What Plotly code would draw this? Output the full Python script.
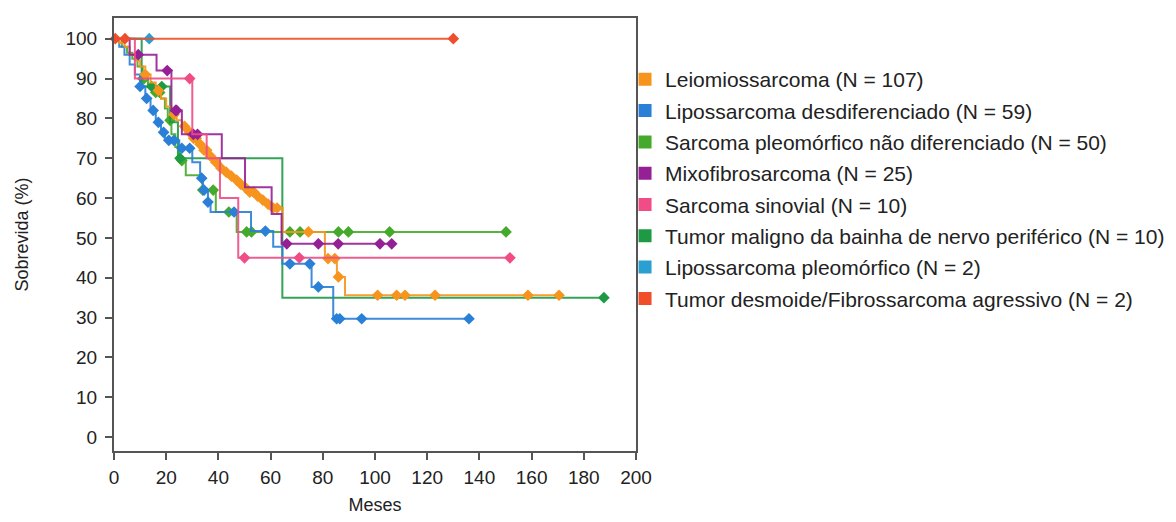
import numpy as np
import plotly.graph_objects as go

# ---------------- data (Kaplan-Meier step curves) ----------------
names = [
    "Leiomiossarcoma (N = 107)",
    "Lipossarcoma desdiferenciado (N = 59)",
    "Sarcoma pleomórfico não diferenciado (N = 50)",
    "Mixofibrosarcoma (N = 25)",
    "Sarcoma sinovial (N = 10)",
    "Tumor maligno da bainha de nervo periférico (N = 10)",
    "Lipossarcoma pleomórfico (N = 2)",
    "Tumor desmoide/Fibrossarcoma agressivo (N = 2)",
]
colors = ["#F7941D", "#2A7FD6", "#45AA2C", "#952096", "#F04C86", "#1E9A45", "#2AA0D0", "#F04E2A"]

leio_t = [0, 2, 4, 6, 8, 10, 12, 14, 16, 18, 20, 22, 24, 26, 28, 30, 32, 34, 36, 38, 40, 42, 44,
          46, 48, 50, 52, 54, 56, 58, 60, 64.6, 80.8, 85.4, 88.5, 172]
leio_s = [100, 99, 98, 96, 94.5, 93, 91, 89, 87, 85, 83, 81, 79.5, 78, 76.5, 75, 73.5, 72, 70.5,
          69, 67.5, 66.5, 65.5, 64.5, 63.5, 62.5, 61.5, 60.5, 59.5, 58.5, 57.5, 51.5, 44.8, 40.2, 35.6, 35.6]
leio_c = [12, 17, 23, 27, 29, 30.5, 31.5, 33, 34.5, 35.5, 37, 39, 41, 43, 45, 47, 48.5, 50.5, 52,
          53.5, 55, 57, 59, 61, 62.5, 74.5, 82, 84.6, 86, 101, 108.3, 111.5, 123, 158.6, 170.5]

lipo_t = [0, 2, 4, 6, 8, 10, 12, 14, 16, 18, 19.5, 25, 30, 33, 34, 36, 37, 52.5, 61, 64.5, 75.7, 84, 136]
lipo_s = [100, 98, 96, 93.5, 91, 88, 85, 82, 79, 76.5, 74.5, 72.5, 69, 65, 62, 59, 56.5, 51.7, 47.8,
          43.5, 37.7, 29.7, 29.7]
lipo_c = [10, 12.5, 15, 17, 19, 21, 23, 26, 29, 33.6, 34.5, 36, 46, 58, 67.4, 75, 78.3, 85.3, 86.5, 94.9, 136]

spnd_t = [0, 3, 5, 7, 9, 11, 13, 15, 18, 19.5, 20.6, 22, 23.5, 25, 27.5, 34, 39, 47, 150.2]
spnd_s = [100, 98, 96.5, 95, 93, 90, 88, 86.5, 85, 82.5, 79.5, 76, 72.8, 69.4, 65.7, 62, 56.5, 51.5, 51.5]
spnd_c = [11, 11.5, 16, 17.5, 21.5, 26, 34, 38, 44, 50.8, 52.7, 67.4, 71.3, 86, 89.8, 105.6, 150.2]

mixo_t = [0, 6, 16.3, 22, 26, 41.3, 50.2, 60.4, 64.2, 106.4]
mixo_s = [100, 96, 92, 82, 76, 70, 62.7, 56, 48.5, 48.5]
mixo_c = [9.3, 20.4, 23.6, 24, 30.4, 32, 66.2, 78.3, 85.9, 101.9, 106.4]

sino_t = [0, 8, 30, 35.5, 40.6, 47.6, 151.7]
sino_s = [100, 90, 76, 70, 60, 45, 45]
sino_c = [29, 50, 71, 151.7]

tmbn_t = [0, 10.6, 21.5, 24.5, 64.5, 187.7]
tmbn_s = [100, 88, 79, 70, 35, 35]
tmbn_c = [14.4, 18.3, 25.3, 187.7]

lpleo_t = [0, 13.5]
lpleo_s = [100, 100]
lpleo_c = [13.5]

desm_t = [0, 130]
desm_s = [100, 100]
desm_c = [0.5, 4.2, 130]

series = [
    (leio_t, leio_s, leio_c),
    (lipo_t, lipo_s, lipo_c),
    (spnd_t, spnd_s, spnd_c),
    (mixo_t, mixo_s, mixo_c),
    (sino_t, sino_s, sino_c),
    (tmbn_t, tmbn_s, tmbn_c),
    (lpleo_t, lpleo_s, lpleo_c),
    (desm_t, desm_s, desm_c),
]

x_ticks = [0, 20, 40, 60, 80, 100, 120, 140, 160, 180, 200]
y_ticks = [0, 10, 20, 30, 40, 50, 60, 70, 80, 90, 100]


def step_value(t, s, c):
    t = np.asarray(t, float)
    s = np.asarray(s, float)
    idx = np.searchsorted(t, np.asarray(c, float), side="right") - 1
    return s[np.clip(idx, 0, len(s) - 1)]


fig = go.Figure()
draw_order = [2, 5, 1, 0, 3, 4, 6, 7]
for i in draw_order:
    t, s, c = series[i]
    fig.add_trace(go.Scatter(x=t, y=s, mode="lines", line=dict(color=colors[i], width=2, shape="hv"),
                             opacity=0.9, showlegend=False, hoverinfo="skip"))
    fig.add_trace(go.Scatter(x=c, y=step_value(t, s, c), mode="markers",
                             marker=dict(symbol="diamond", size=9, color=colors[i]),
                             showlegend=False, cliponaxis=False))

# legend entries (square swatches)
for i, nm in enumerate(names):
    fig.add_trace(go.Scatter(x=[None], y=[None], mode="markers", name=nm, legendgroup=str(i),
                             marker=dict(symbol="square", size=13, color=colors[i])))

font_family = "Liberation Sans, Arial, sans-serif"
fig.update_layout(
    width=1176, height=522,
    margin=dict(l=114, r=540, t=18, b=71, autoexpand=False),
    plot_bgcolor="white", paper_bgcolor="white",
    font=dict(family=font_family, size=19, color="#222"),
    legend=dict(x=0.979, xanchor="left", y=0.905, yanchor="top", font=dict(size=21, color="#222"),
                tracegroupgap=1, bgcolor="rgba(0,0,0,0)", itemwidth=30),
)
fig.update_xaxes(range=[0, 200], tickvals=x_ticks, ticks="outside", ticklen=7, tickwidth=2,
                 tickcolor="#555", showline=True, mirror=True, linecolor="#555", linewidth=2,
                 showgrid=False, zeroline=False, ticklabelstandoff=1,
                 title=dict(text="Meses", standoff=12, font=dict(size=18)))
fig.update_yaxes(range=[-3.5, 105.2], tickvals=y_ticks, ticks="outside", ticklen=7, tickwidth=2,
                 tickcolor="#555", showline=True, mirror=True, linecolor="#555", linewidth=2,
                 showgrid=False, zeroline=False, ticklabelstandoff=4,
                 title=dict(text="Sobrevida (%)", standoff=32, font=dict(size=18)))

fig.write_html("out.html")
